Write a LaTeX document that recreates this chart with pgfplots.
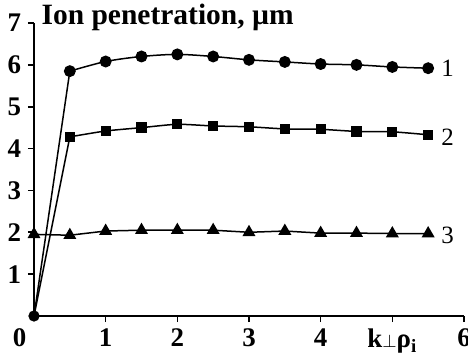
\documentclass[border=0pt]{standalone}
\usepackage{pgfplots}
\pgfplotsset{compat=1.18}
\usepackage{fontspec}
\setmainfont{Liberation Serif}
\begin{document}
\begin{tikzpicture}
\begin{axis}[
  at={(0,0)}, anchor=south west,
  scale only axis, width=215bp, height=146.5bp,
  xmin=0, xmax=6, ymin=0, ymax=7,
  axis x line=bottom, axis y line=left,
  axis line style={-, line width=1bp},
  tick style={black, line width=0.8bp},
  major tick length=3bp,
  tick align=outside,
  xtick={1,2,3,4,5,6},
  xticklabels={1,2,3,4,{k{\small$\perp$}ρ\textsubscript{i}},6},
  ytick={1,2,3,4,5,6,7},
  /pgf/number format/assume math mode=true,
  ticklabel style={font=\fontsize{13.5}{15}\selectfont\bfseries},
  clip=false,
]
\addplot[black, line width=0.75bp, no marks] coordinates {(0,0) (0.5,5.85)};
\addplot[black, line width=0.75bp, no marks] coordinates {(0,0) (0.5,4.28)};
\addplot[black, line width=0.75bp, smooth, tension=0.5, mark=*, mark size=2.6bp] coordinates {
(0.5,5.85) (1,6.08) (1.5,6.2) (2,6.25) (2.5,6.2) (3,6.12) (3.5,6.07) (4,6.02) (4.5,6.0) (5,5.95) (5.5,5.92)};
\addplot[black, line width=0.75bp, smooth, tension=0.4, mark=square*, mark size=2.2bp] coordinates {
(0.5,4.28) (1,4.42) (1.5,4.5) (2,4.58) (2.5,4.54) (3,4.52) (3.5,4.47) (4,4.46) (4.5,4.41) (5,4.40) (5.5,4.33)};
\addplot[black, line width=0.75bp, mark=triangle*, mark size=3bp] coordinates {
(0,1.95) (0.5,1.93) (1,2.03) (1.5,2.05) (2,2.05) (2.5,2.05) (3,2.0) (3.5,2.03) (4,1.98) (4.5,1.98) (5,1.97) (5.5,1.97)};
\addplot[black, only marks, mark=*, mark size=2.6bp] coordinates {(0,0)};
\node[anchor=base west, font=\fontsize{14.8}{16}\selectfont\bfseries, inner sep=0pt] at (axis cs:0.1,6.96) {Ion penetration, µm};
\node[anchor=west, font=\fontsize{12.5}{15}\selectfont, inner sep=0pt] at (axis cs:5.68,5.92) {1};
\node[anchor=west, font=\fontsize{12.5}{15}\selectfont, inner sep=0pt] at (axis cs:5.68,4.28) {2};
\node[anchor=west, font=\fontsize{12.5}{15}\selectfont, inner sep=0pt] at (axis cs:5.68,1.93) {3};
\node[font=\fontsize{13.5}{15}\selectfont\bfseries, inner sep=0pt] at (axis cs:-0.2,-0.53) {0};
\end{axis}
\pgfresetboundingbox
\path[use as bounding box] (-17bp,-20bp) rectangle (217bp,158bp);
\end{tikzpicture}
\end{document}
